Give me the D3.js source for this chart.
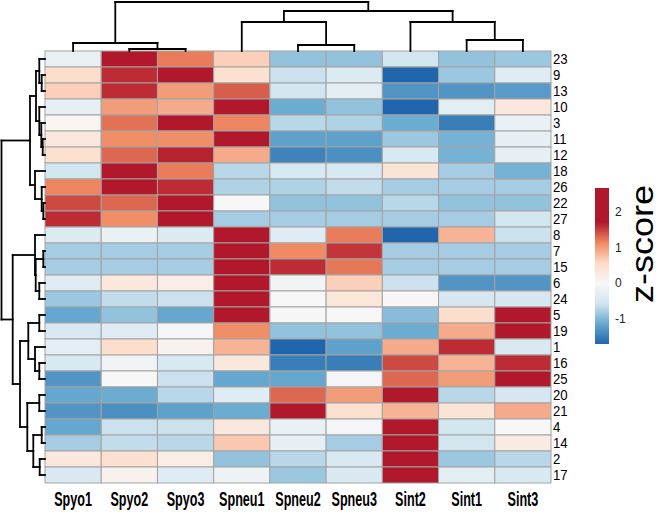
<!DOCTYPE html>
<html>
<head>
<meta charset="utf-8">
<script src="https://cdn.jsdelivr.net/npm/d3@7"></script>
<style>
body { margin: 0; background: #fff; }
</style>
</head>
<body>
<script>
/* heatmap of z-scores with row and column dendrograms */
var samples = ["Spyo1", "Spyo2", "Spyo3", "Spneu1", "Spneu2", "Spneu3", "Sint2", "Sint1", "Sint3"];
var genes = ["23", "9", "13", "10", "3", "11", "12", "18", "26", "22", "27", "8", "7", "15",
             "6", "24", "5", "19", "1", "16", "25", "20", "21", "4", "14", "2", "17"];

// one row per gene, columns in the order of samples
var zscores = [
    [-0.2, 1.8, 1.2, 0.65, -0.9, -0.9, -0.55, -0.9, -0.85],
    [0.5, 1.6, 1.7, 0.45, -0.6, -0.4, -1.7, -0.85, -0.35],
    [0.65, 1.6, 1.0, 1.35, -0.55, -0.3, -1.3, -1.3, -1.25],
    [-0.25, 1.0, 0.9, 1.7, -1.1, -0.9, -1.7, -0.3, 0.3],
    [0.05, 1.25, 1.7, 1.15, -0.7, -0.75, -1.1, -1.5, -0.2],
    [0.3, 1.1, 1.1, 1.75, -1.2, -1.2, -0.85, -1.05, -0.25],
    [0.45, 1.3, 1.65, 0.9, -1.45, -1.35, -0.45, -1.05, -0.25],
    [-0.55, 1.75, 1.2, -0.7, -0.45, -0.45, 0.4, -0.8, -1.05],
    [1.15, 1.8, 1.6, -0.75, -0.75, -0.65, -0.8, -0.8, -0.8],
    [1.45, 1.3, 1.75, 0.0, -0.9, -0.9, -0.7, -0.9, -0.9],
    [1.6, 1.1, 1.8, -0.8, -0.8, -0.8, -0.8, -0.8, -0.55],
    [-0.4, -0.2, -0.4, 1.9, -0.35, 1.2, -1.7, 0.85, -0.6],
    [-0.8, -0.8, -0.8, 1.9, 1.13, 1.55, -0.8, -0.8, -0.8],
    [-0.8, -0.8, -0.8, 1.9, 1.6, 1.22, -0.8, -0.8, -0.8],
    [-0.35, 0.3, 0.2, 1.85, -0.1, 0.65, -0.6, -1.3, -1.3],
    [-0.85, -0.65, -0.6, 1.85, 0.0, 0.35, 0.02, -0.5, -0.5],
    [-1.15, -0.9, -1.15, 1.85, -0.02, 0.0, -0.95, 0.5, 1.85],
    [-0.45, -0.35, -0.05, 1.1, -0.9, -0.9, -1.1, 0.9, 1.8],
    [-0.3, 0.5, 0.1, 0.85, -1.7, -1.2, 0.9, 1.6, -0.45],
    [-0.45, -0.1, -0.45, 0.3, -1.5, -1.5, 1.45, 0.85, 1.6],
    [-1.3, 0.0, -0.6, -1.15, -1.15, -0.05, 1.3, 1.0, 1.8],
    [-1.15, -1.1, -0.7, -0.35, 1.3, 1.0, 1.75, -0.7, -0.5],
    [-1.3, -1.35, -1.2, -1.1, 1.75, 0.45, 0.85, 0.4, 0.9],
    [-1.15, -0.6, -0.6, 0.3, -0.2, -0.05, 1.85, -0.55, 0.0],
    [-0.8, -0.65, -0.7, 0.7, -0.25, -0.8, 1.85, -0.55, 0.25],
    [0.3, 0.45, 0.2, -0.9, -0.7, -0.45, 1.85, -0.85, -0.7],
    [-0.45, 0.1, -0.35, -0.15, -0.85, -0.45, 1.85, -0.3, -0.45]
];

// hclust style merges: negative = leaf (position in display order), positive = earlier merge
var colMerge = [[-2, -3], [-1, 1], [-5, -6], [-4, 3], [-8, -9], [-7, 5], [4, 6], [2, 7]];
var colHeights = [2, 8, 6, 29, 11, 29, 40, 49];

var rowMerge = [[-2, -3], [-1, 1], [-6, -7], [-5, 3], [-4, 4], [2, 5], [-10, -11], [-9, 7], [-8, 8], [6, 9],
                [-13, -14], [-15, -16], [11, 12], [-12, 13], [-17, -18], [-20, -21], [-19, 16], [15, 17],
                [-22, -23], [-24, -25], [-26, -27], [20, 21], [19, 22], [18, 23], [14, 24], [10, 25]];
var rowHeights = [3.3, 5.7, 2.3, 3.7, 5.7, 9, 1.7, 3.3, 10, 15,
                  1.7, 5.7, 9.3, 10, 5.7, 5.7, 10, 16.7,
                  5.7, 3.3, 5.3, 11.7, 17.7, 25, 32.3, 43.5];

var legendTicks = [2, 1, 0, -1];
var legendMin = -1.7, legendMax = 2.67;

var palette = ["#2166AC", "#67A9CF", "#D1E5F0", "#F7F7F7", "#FDDBC7", "#EF8A62", "#B2182B"];

var width = 660, height = 514;

var svg = d3.select("body").append("svg")
    .attr("width", width)
    .attr("height", height);

var x = d3.scaleBand().domain(samples).range([45, 551]);
var y = d3.scaleBand().domain(genes).range([51, 483]);

var color = d3.scaleLinear()
    .domain([-1.7, -1.13, -0.57, 0, 0.57, 1.13, 1.7])
    .range(palette)
    .clamp(true);

// cells
var cells = [];
zscores.forEach(function(row, i) {
    row.forEach(function(v, j) {
        cells.push({ gene: genes[i], sample: samples[j], value: v });
    });
});

svg.append("g").selectAll("rect")
    .data(cells)
    .enter()
    .append("rect")
    .attr("x", function(d) { return x(d.sample); })
    .attr("y", function(d) { return y(d.gene); })
    .attr("width", x.bandwidth())
    .attr("height", y.bandwidth())
    .attr("fill", function(d) { return color(d.value); })
    .attr("stroke", "#a3a3a3")
    .attr("stroke-width", 1);

// dendrograms
function dendroSegments(merge, heights, leafPos) {
    var pos = [], segs = [];
    merge.forEach(function(m, i) {
        var kids = m.map(function(k) {
            return k < 0 ? { p: leafPos(-k - 1), h: 0 } : pos[k - 1];
        });
        var h = heights[i];
        segs.push([kids[0].p, kids[0].h, kids[0].p, h]);
        segs.push([kids[1].p, kids[1].h, kids[1].p, h]);
        segs.push([kids[0].p, h, kids[1].p, h]);
        pos.push({ p: (kids[0].p + kids[1].p) / 2, h: h });
    });
    return segs;
}

var colH = d3.scaleLinear().domain([0, 49]).range([51, 2]);
var colSegs = dendroSegments(colMerge, colHeights, function(i) {
    return x(samples[i]) + x.bandwidth() / 2;
});
svg.append("g").selectAll("line")
    .data(colSegs)
    .enter()
    .append("line")
    .attr("x1", function(s) { return s[0]; })
    .attr("y1", function(s) { return colH(s[1]); })
    .attr("x2", function(s) { return s[2]; })
    .attr("y2", function(s) { return colH(s[3]); })
    .attr("stroke", "#000")
    .attr("stroke-width", 1.8)
    .attr("stroke-linecap", "square");

var rowH = d3.scaleLinear().domain([0, 43.5]).range([45, 1.5]);
var rowSegs = dendroSegments(rowMerge, rowHeights, function(i) {
    return y(genes[i]) + y.bandwidth() / 2;
});
svg.append("g").selectAll("line")
    .data(rowSegs)
    .enter()
    .append("line")
    .attr("x1", function(s) { return rowH(s[1]); })
    .attr("y1", function(s) { return s[0]; })
    .attr("x2", function(s) { return rowH(s[3]); })
    .attr("y2", function(s) { return s[2]; })
    .attr("stroke", "#000")
    .attr("stroke-width", 1.8)
    .attr("stroke-linecap", "square");

// row labels
svg.append("g").selectAll("text")
    .data(genes)
    .enter()
    .append("text")
    .attr("transform", function(d) {
        return "translate(553," + (y(d) + y.bandwidth() / 2 + 5.3) + ") scale(0.88,1)";
    })
    .style("font-family", "'Liberation Sans', Arial, sans-serif")
    .style("font-size", "15px")
    .text(function(d) { return d; });

// column labels
svg.append("g").selectAll("text")
    .data(samples)
    .enter()
    .append("text")
    .attr("transform", function(d) {
        return "translate(" + (x(d) + x.bandwidth() / 2) + ",506) scale(0.6,1)";
    })
    .attr("text-anchor", "middle")
    .style("font-family", "'Liberation Sans', Arial, sans-serif")
    .style("font-weight", "bold")
    .style("font-size", "21px")
    .text(function(d) { return d; });

// legend
var ly = d3.scaleLinear().domain([legendMin, legendMax]).range([344, 188]);
var grad = svg.append("defs").append("linearGradient")
    .attr("id", "zgrad")
    .attr("x1", 0).attr("y1", 1).attr("x2", 0).attr("y2", 0);
d3.range(0, 1.0001, 0.02).forEach(function(t) {
    grad.append("stop")
        .attr("offset", t)
        .attr("stop-color", color(legendMin + t * (legendMax - legendMin)));
});
svg.append("rect")
    .attr("x", 595)
    .attr("y", ly(legendMax))
    .attr("width", 14)
    .attr("height", ly(legendMin) - ly(legendMax))
    .attr("fill", "url(#zgrad)");

svg.append("g").selectAll("text")
    .data(legendTicks)
    .enter()
    .append("text")
    .attr("x", 615)
    .attr("y", function(d) { return ly(d) + 4; })
    .style("font-family", "'Liberation Sans', Arial, sans-serif")
    .style("font-size", "12px")
    .style("fill", "#222")
    .text(function(d) { return d; });

svg.append("text")
    .attr("transform", "translate(653,244) scale(0.85,1) rotate(-90)")
    .attr("text-anchor", "middle")
    .style("font-family", "'Liberation Sans', Arial, sans-serif")
    .style("font-size", "36px")
    .text("z-score");
</script>
</body>
</html>
